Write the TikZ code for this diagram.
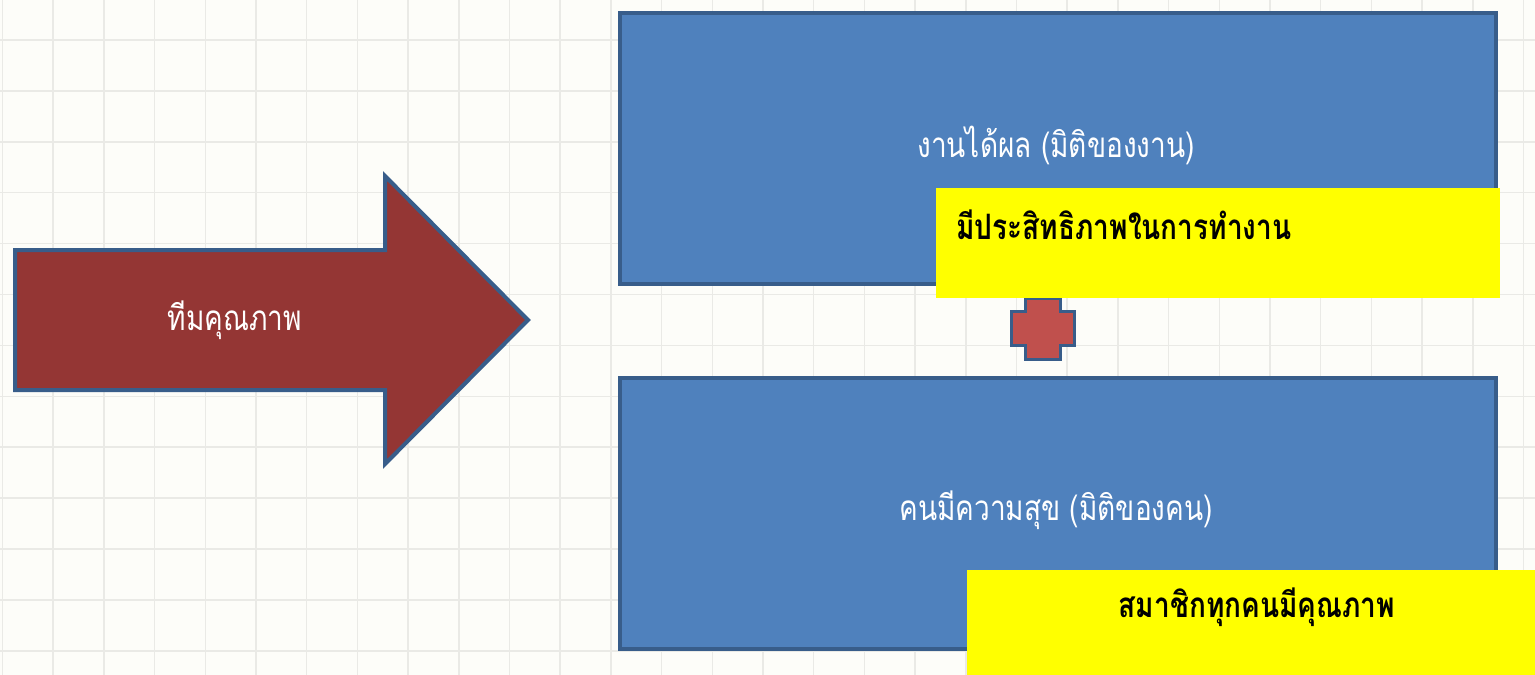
\documentclass[tikz,border=0pt]{standalone}
\usepackage{fontspec}
\newfontfamily\thai[Script=Thai,FakeStretch=0.8]{Loma}
\definecolor{bgc}{HTML}{FDFDF9}
\definecolor{gridc}{HTML}{EAEAE6}
\definecolor{boxblue}{HTML}{4F81BD}
\definecolor{edgeblue}{HTML}{385D8A}
\definecolor{arrowred}{HTML}{943634}
\definecolor{plusred}{HTML}{C0504D}
\definecolor{hiyellow}{HTML}{FFFF00}
\tikzset{
  bluebox/.style={draw=edgeblue, fill=boxblue, line width=4pt, minimum width=876pt, minimum height=271pt, inner sep=0pt, anchor=north west},
  yellowbox/.style={fill=hiyellow, inner sep=0pt, anchor=north west},
  whitetxt/.style={text=white, font=\thai\fontsize{35}{40}\selectfont},
  blacktxt/.style={text=black, font=\thai\bfseries\fontsize{35}{40}\selectfont},
}
\begin{document}
\begin{tikzpicture}[x=1pt,y=-1pt]
\useasboundingbox (0,0) rectangle (1535,675);
\fill[bgc] (0,0) rectangle (1535,675);
\foreach \i in {0,...,30} {
  \draw[gridc, line width=1.5pt] (2.5+50.7*\i,0) -- (2.5+50.7*\i,675);
}
\foreach \j in {0,...,13} {
  \draw[gridc, line width=1.5pt] (0,40-50.9+50.9*\j) -- (1535,40-50.9+50.9*\j);
}
% arrow
\draw[edgeblue, fill=arrowred, line width=4pt, line join=miter]
  (15,250) -- (385,250) -- (385,176) -- (528,320) -- (385,464) -- (385,390) -- (15,390) -- cycle;
\node[whitetxt] (team) at (235,320) {ทีมคุณภาพ};
% boxes
\node[bluebox] (work) at (618,11) {};
\node[whitetxt] (worktxt) at (1056,145) {งานได้ผล (มิติของงาน)};
\node[bluebox] (people) at (618,376) {};
\node[whitetxt] (peopletxt) at (1056,510) {คนมีความสุข (มิติของคน)};
% plus
\draw[edgeblue, fill=plusred, line width=3pt]
  (1025,298) -- (1060,298) -- (1060,311) -- (1074,311) -- (1074,345) -- (1060,345) -- (1060,359) -- (1025,359) -- (1025,345) -- (1011,345) -- (1011,311) -- (1025,311) -- cycle;
% yellow boxes
\node[yellowbox, minimum width=564pt, minimum height=110pt] (eff) at (936,188) {};
\node[blacktxt, anchor=west] (efftxt) at (953,225) {มีประสิทธิภาพในการทำงาน};
\node[yellowbox, minimum width=570pt, minimum height=106pt] (qual) at (967,570) {};
\node[blacktxt] (qualtxt) at (1257,607) {สมาชิกทุกคนมีคุณภาพ};
\end{tikzpicture}
\end{document}
